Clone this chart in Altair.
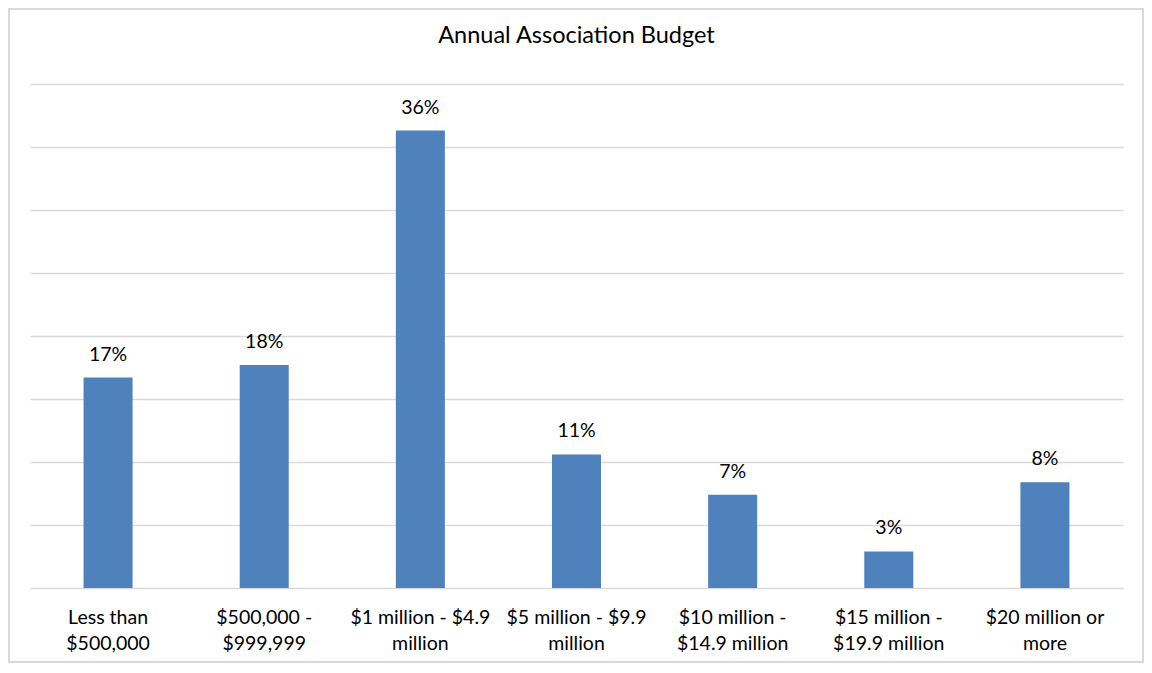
import altair as alt
import pandas as pd

categories = [
    "Less than\n$500,000",
    "$500,000 -\n$999,999",
    "$1 million - $4.9\nmillion",
    "$5 million - $9.9\nmillion",
    "$10 million -\n$14.9 million",
    "$15 million -\n$19.9 million",
    "$20 million or\nmore",
]
values = [16.7, 17.7, 36.3, 10.6, 7.4, 2.9, 8.4]
gridlines = [0, 5, 10, 15, 20, 25, 30, 35, 40]

df = pd.DataFrame({"category": categories, "value": values})

FONT = "Lato"
W, H = 1093, 504

x = alt.X(
    "category:N",
    sort=categories,
    title=None,
    scale=alt.Scale(paddingInner=0.686, paddingOuter=0.343),
    axis=alt.Axis(
        labelAngle=0,
        labelExpr="split(datum.value, '\\n')",
        labelFontSize=19.5,
        labelFont=FONT,
        labelColor="#000000",
        labelLineHeight=26,
        labelBaseline="alphabetic",
        labelPadding=35,
        ticks=False,
        domain=False,
        grid=False,
    ),
)
y = alt.Y(
    "value:Q",
    title=None,
    scale=alt.Scale(domain=[0, 40], nice=False),
    axis=alt.Axis(
        values=gridlines,
        labels=False,
        ticks=False,
        domain=False,
        grid=True,
        gridColor="#d9d9d9",
        gridWidth=1.3,
    ),
)

base = alt.Chart(df)

bars = base.mark_bar(color="#4f81bd").encode(x=x, y=y)

text = base.mark_text(
    dy=-17, baseline="alphabetic", fontSize=19.5, font=FONT, color="#000000"
).encode(
    x=alt.X("category:N", sort=categories),
    y=alt.Y("value:Q"),
    text=alt.Text("label:N"),
).transform_calculate(label="format(datum.value / 100, '.0%')")

title_df = pd.DataFrame({"t": ["Annual Association Budget"]})
title = alt.Chart(title_df).mark_text(
    fontSize=23.5, font=FONT, color="#000000", baseline="alphabetic", align="center"
).encode(
    text="t:N",
    x=alt.value(W / 2),
    y=alt.value(-41),
)

frame = base.mark_rect(fill=None, stroke="#d9d9d9", strokeWidth=1.5).encode(
    x=alt.value(-21),
    x2=alt.value(W + 20),
    y=alt.value(-75),
    y2=alt.value(H + 74),
)

chart = (
    alt.layer(frame, bars, text, title)
    .properties(
        width=W,
        height=H,
        background="#ffffff",
        autosize=alt.AutoSizeParams(type="none"),
        padding={"left": 22, "top": 76, "right": 21, "bottom": 77},
    )
    .configure_view(stroke="transparent", strokeWidth=0)
    .configure_axis(domain=False, ticks=False)
)

chart.save("out.html", embed_options={"renderer": "svg", "actions": False})
